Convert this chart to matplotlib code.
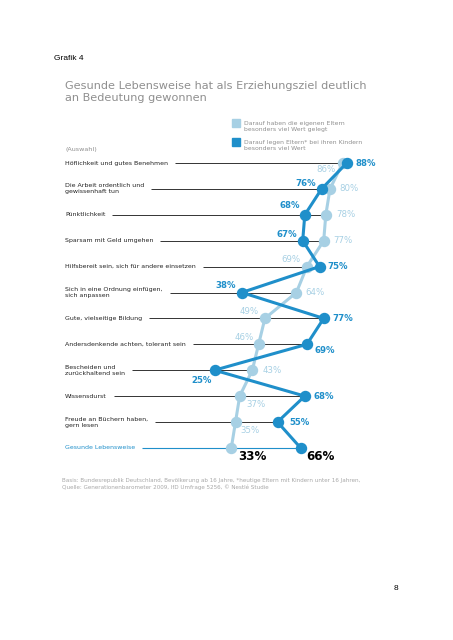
import matplotlib
matplotlib.use("Agg")
import matplotlib.pyplot as plt
import matplotlib.transforms as mtransforms

plt.rcParams['font.family'] = ['DejaVu Sans']

# --- data -------------------------------------------------------------
categories = [
    "Höflichkeit und gutes Benehmen",
    "Die Arbeit ordentlich und\ngewissenhaft tun",
    "Pünktlichkeit",
    "Sparsam mit Geld umgehen",
    "Hilfsbereit sein, sich für andere einsetzen",
    "Sich in eine Ordnung einfügen,\nsich anpassen",
    "Gute, vielseitige Bildung",
    "Andersdenkende achten, tolerant sein",
    "Bescheiden und\nzurückhaltend sein",
    "Wissensdurst",
    "Freude an Büchern haben,\ngern lesen",
    "Gesunde Lebensweise",
]
eigene_eltern = [86, 80, 78, 77, 69, 64, 49, 46, 43, 37, 35, 33]
heutige_eltern = [88, 76, 68, 67, 75, 38, 77, 69, 25, 68, 55, 66]

legend_labels = [
    "Darauf haben die eigenen Eltern\nbesonders viel Wert gelegt",
    "Darauf legen Eltern* bei ihren Kindern\nbesonders viel Wert",
]

# label placement (pixel offsets, alignment) for each point label
light_place = [(-7, -6, 'right'), (9, 0, 'left'), (10, 0, 'left'), (10, 0, 'left'),
               (-6, 7, 'right'), (9, 0, 'left'), (-6, 7, 'right'), (-5, 7, 'right'),
               (10, 0, 'left'), (7, -8, 'left'), (5, -8, 'left'), (7, -9, 'left')]
dark_place = [(9, 0, 'left'), (-6, 5, 'right'), (-5, 9, 'right'), (-6, 6, 'right'),
              (8, 0, 'left'), (-6, 7, 'right'), (9, 0, 'left'), (8, -6, 'left'),
              (-3, -10, 'right'), (9, 0, 'left'), (12, 0, 'left'), (6, -9, 'left')]

LIGHT = "#a7d0e4"
DARK = "#1f8fca"
GREY = "#8f8f8f"

W, H = 453, 640
fig = plt.figure(figsize=(W / 100, H / 100), dpi=100)
ax = fig.add_axes([0, 0, 1, 1])
ax.axis('off')

# value v sits at x = 162 + 2.1 v px, row i at y = 163 + 25.9 i px
ax.set_xlim(-162 / 2.1, (W - 162) / 2.1)
ax.set_ylim((H - 163) / 25.9, -163 / 25.9)

rows = list(range(len(categories)))
blend = mtransforms.blended_transform_factory(ax.transAxes, ax.transData)

# row labels
label_texts = []
for i, cat in enumerate(categories):
    last = i == len(categories) - 1
    t = ax.text(65 / W, i, cat, transform=blend, ha='left', va='center',
                fontsize=4.5, color=DARK if last else "#222222", linespacing=1.25)
    label_texts.append(t)

fig.canvas.draw()
renderer = fig.canvas.get_renderer()
inv = ax.transData.inverted()
for i, t in enumerate(label_texts):
    bb = t.get_window_extent(renderer)
    x0 = inv.transform((bb.x1 + 7, 0))[0]
    x1 = max(eigene_eltern[i], heutige_eltern[i])
    last = i == len(categories) - 1
    ax.plot([x0, x1], [i, i], color=DARK if last else "#333333",
            lw=0.8 if last else 0.7, zorder=1, solid_capstyle='butt')

# series
ax.plot(eigene_eltern, rows, color=LIGHT, lw=2.2, marker='o', ms=7.2, zorder=3)
ax.plot(heutige_eltern, rows, color=DARK, lw=2.2, marker='o', ms=7.2, zorder=4)

for i in rows:
    last = i == len(categories) - 1
    for vals, place, col, wt in [(eigene_eltern, light_place, LIGHT, 'normal'),
                                 (heutige_eltern, dark_place, DARK, 'bold')]:
        dx, dy, ha = place[i]
        ax.annotate(f"{vals[i]}%", (vals[i], i), xytext=(dx, dy),
                    textcoords='offset pixels', ha=ha, va='center',
                    fontsize=8.6 if last else 6.2,
                    color='black' if last else col,
                    fontweight='bold' if last else wt, zorder=5)

# titles and notes
fig.text(54 / W, 1 - 58 / H, "Grafik 4", fontsize=6, family='Liberation Sans',
         va='center', ha='left', color='black')
fig.text(65 / W, 1 - 92 / H,
         "Gesunde Lebensweise hat als Erziehungsziel deutlich\nan Bedeutung gewonnen",
         fontsize=8.1, color=GREY, va='center', ha='left', linespacing=1.25)
fig.text(65 / W, 1 - 149 / H, "(Auswahl)", fontsize=4.6, color=GREY, va='center')

for k, (lab, col) in enumerate(zip(legend_labels, [LIGHT, DARK])):
    yc = 123 + 18.5 * k
    fig.patches.append(plt.Rectangle((232 / W, 1 - (yc + 4) / H), 8 / W, 8 / H,
                                     transform=fig.transFigure, color=col))
    fig.text(244 / W, 1 - (yc + 4) / H, lab, fontsize=4.4, color=GREY,
             va='center', ha='left', linespacing=1.25)

fig.text(62 / W, 1 - 484 / H,
         "Basis: Bundesrepublik Deutschland, Bevölkerung ab 16 Jahre, *heutige Eltern mit Kindern unter 16 Jahren,\n"
         "Quelle: Generationenbarometer 2009, IfD Umfrage 5256, © Nestlé Studie",
         fontsize=4.1, color="#a8a8a8", va='center', ha='left', linespacing=1.3)

fig.text(396 / W, 1 - 588 / H, "8", fontsize=6, family='Liberation Sans',
         va='center', ha='center', color='black')

fig.savefig("out.png", dpi=100, facecolor='white')
